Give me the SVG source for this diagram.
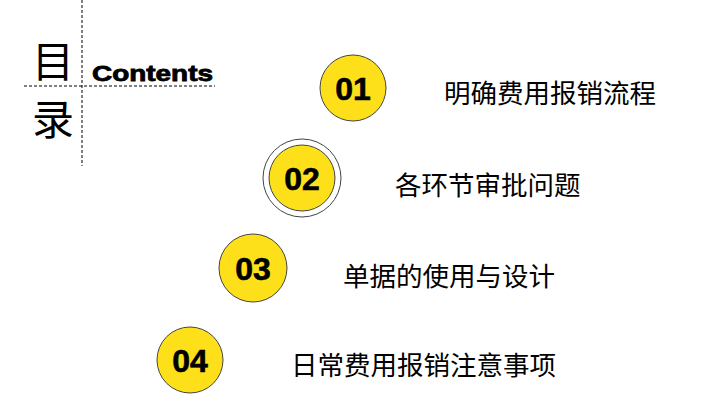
<svg xmlns="http://www.w3.org/2000/svg" width="708" height="403" viewBox="0 0 708 403">
<style>
.c{fill:#FDE01A;stroke:#444;stroke-width:1}
.n{font-family:"Liberation Sans",Arial,sans-serif;font-weight:bold;font-size:32px;text-anchor:middle;fill:#000;stroke:#000;stroke-width:0.6}
.t{font-family:"Noto Sans CJK SC",sans-serif;font-size:26.5px;fill:#000}
.d{stroke:#000;stroke-width:1;stroke-dasharray:3,2;fill:none}
</style>
<rect width="708" height="403" fill="#fff"/>
<g id="title">
<line class="d" x1="82" y1="0" x2="82" y2="166"/>
<line class="d" x1="24" y1="86" x2="215" y2="86"/>
<text x="53" y="77" font-family="Noto Sans CJK SC,sans-serif" font-size="42" text-anchor="middle">目</text>
<text x="53" y="135" font-family="Noto Sans CJK SC,sans-serif" font-size="42" text-anchor="middle">录</text>
<text x="92" y="81" font-family="Liberation Sans,Arial,sans-serif" font-weight="bold" font-size="22" stroke="#000" stroke-width="0.8" textLength="121" lengthAdjust="spacingAndGlyphs">Contents</text>
</g>
<g id="item1"><circle class="c" cx="353" cy="88" r="33"/><text class="n" x="353" y="100">01</text><text class="t" x="444" y="103">明确费用报销流程</text></g>
<g id="item2"><circle cx="302" cy="178" r="39" fill="#fff" stroke="#444" stroke-width="1"/><circle class="c" cx="302" cy="178" r="33"/><text class="n" x="302" y="190">02</text><text class="t" x="395" y="195">各环节审批问题</text></g>
<g id="item3"><circle class="c" cx="253" cy="268" r="34"/><text class="n" x="253" y="280">03</text><text class="t" x="343" y="286">单据的使用与设计</text></g>
<g id="item4"><circle class="c" cx="190" cy="360" r="33"/><text class="n" x="190" y="372">04</text><text class="t" x="291" y="375">日常费用报销注意事项</text></g>
<g id="connectors"/>
</svg>
